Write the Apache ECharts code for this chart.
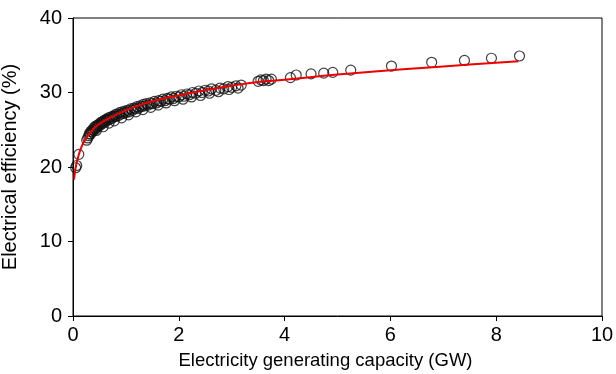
<!DOCTYPE html>
<html>
<head>
<meta charset="utf-8">
<script src="https://cdn.jsdelivr.net/npm/echarts@6/dist/echarts.min.js"></script>
<style>
html,body{margin:0;padding:0;background:#fff;}
#chart{width:616px;height:374px;}
</style>
</head>
<body>
<div id="chart"></div>
<script>
// Observed data: capacity (GW) and electrical efficiency (%)
const obsX = [0.05,0.07,0.11,
  0.26,0.28,0.30,0.31,0.33,0.34,0.36,0.37,0.39,0.40,0.42,0.43,0.45,0.46,0.48,0.50,0.51,0.53,0.55,0.56,0.58,0.60,
  0.62,0.63,0.65,0.67,0.69,0.71,0.73,0.75,0.77,0.79,0.81,0.83,0.86,0.88,0.90,0.93,0.95,0.98,1.00,1.03,1.06,1.09,
  1.12,1.15,1.18,1.21,1.24,1.27,1.30,1.33,1.36,1.39,1.42,1.46,1.50,1.54,1.58,1.62,1.66,1.70,1.74,1.78,1.82,1.86,
  1.90,1.95,2.00,2.05,2.10,2.15,2.20,2.26,2.32,2.38,2.44,2.50,2.56,2.62,2.70,2.78,2.85,2.93,3.00,3.08,3.18,
  0.44,0.57,0.68,0.78,0.92,1.05,1.19,1.32,1.47,1.61,1.76,1.92,2.08,2.24,2.41,2.58,2.75,2.95,3.12,
  3.50,3.55,3.60,3.65,3.70,3.75,
  4.11,4.22,4.50,4.74,4.91,5.25,6.02,6.78,7.40,7.91,8.44];
const obsY = [19.9,20.2,21.7,
  23.6,23.9,24.2,24.5,24.4,24.8,24.7,25.0,24.9,25.3,25.1,25.5,25.3,25.6,25.5,25.8,25.6,26.0,25.8,26.1,26.0,26.3,
  26.1,26.4,26.3,26.6,26.4,26.7,26.5,26.8,26.7,27.0,26.8,27.1,26.9,27.3,27.1,27.4,27.2,27.5,27.3,27.6,27.4,27.8,
  27.6,27.9,27.8,28.1,27.9,28.2,28.1,28.4,28.2,28.5,28.3,28.6,28.5,28.8,28.6,28.9,28.8,29.1,28.9,29.2,29.1,29.4,
  29.2,29.5,29.4,29.7,29.5,29.8,29.7,30.0,29.9,30.2,30.0,30.3,30.2,30.5,30.3,30.6,30.5,30.8,30.7,30.9,31.0,
  24.9,25.4,25.9,26.2,26.6,27.0,27.4,27.7,28.0,28.3,28.6,28.9,29.1,29.4,29.6,29.9,30.1,30.4,30.6,
  31.5,31.7,31.6,31.8,31.6,31.8,
  32.0,32.35,32.5,32.6,32.7,33.0,33.55,34.05,34.3,34.6,34.9];
// Fitted curve
const fitX = [0.02,0.05,0.1,0.15,0.2,0.3,0.4,0.5,0.7,1.0,1.3,1.6,2.0,2.5,3.0,3.5,4.0,5.0,6.0,7.0,8.0,8.42];
const fitY = [18.3,19.9,21.4,22.5,23.3,24.4,25.2,25.8,26.6,27.6,28.4,29.0,29.6,30.3,30.9,31.4,31.7,32.4,33.0,33.5,34.0,34.2];
// Axis ticks
const xTicks = [0,2,4,6,8,10];
const yTicks = [0,10,20,30,40];

const scatterData = obsX.map((x,i)=>[x,obsY[i]]);
const fitData = fitX.map((x,i)=>[x,fitY[i]]);

const chart = echarts.init(document.getElementById('chart'));
const font = 'Liberation Sans, Arial, sans-serif';
chart.setOption({
  animation:false,
  backgroundColor:'#fff',
  grid:{left:73,right:14,top:18,bottom:58,containLabel:false,outerBoundsMode:'none',
        show:true,borderColor:'#000',borderWidth:1,backgroundColor:'transparent'},
  xAxis:{
    type:'value',min:xTicks[0],max:xTicks[xTicks.length-1],interval:2,
    name:'Electricity generating capacity (GW)',nameLocation:'middle',nameGap:35,
    nameTextStyle:{fontFamily:font,fontSize:18.5,color:'#000',padding:[0,24,0,0]},
    axisLine:{lineStyle:{color:'#000',width:1}},
    axisTick:{inside:false,length:5,lineStyle:{color:'#000'}},
    axisLabel:{fontFamily:font,fontSize:20,color:'#000',margin:9},
    splitLine:{show:false}
  },
  yAxis:{
    type:'value',min:yTicks[0],max:yTicks[yTicks.length-1],interval:10,
    name:'Electrical efficiency (%)',nameLocation:'middle',nameGap:53,
    nameTextStyle:{fontFamily:font,fontSize:20,color:'#000'},
    axisLine:{lineStyle:{color:'#000',width:1}},
    axisTick:{inside:false,length:5,lineStyle:{color:'#000'}},
    axisLabel:{fontFamily:font,fontSize:20,color:'#000',margin:11},
    splitLine:{show:false}
  },
  series:[
    {type:'scatter',data:scatterData,symbol:'circle',symbolSize:10,
     itemStyle:{color:'rgba(0,0,0,0)',borderColor:'#111',borderWidth:1.2},z:2},
    {type:'line',data:fitData,smooth:true,showSymbol:false,
     lineStyle:{color:'#ee0000',width:2},z:3}
  ]
});
</script>
</body>
</html>
